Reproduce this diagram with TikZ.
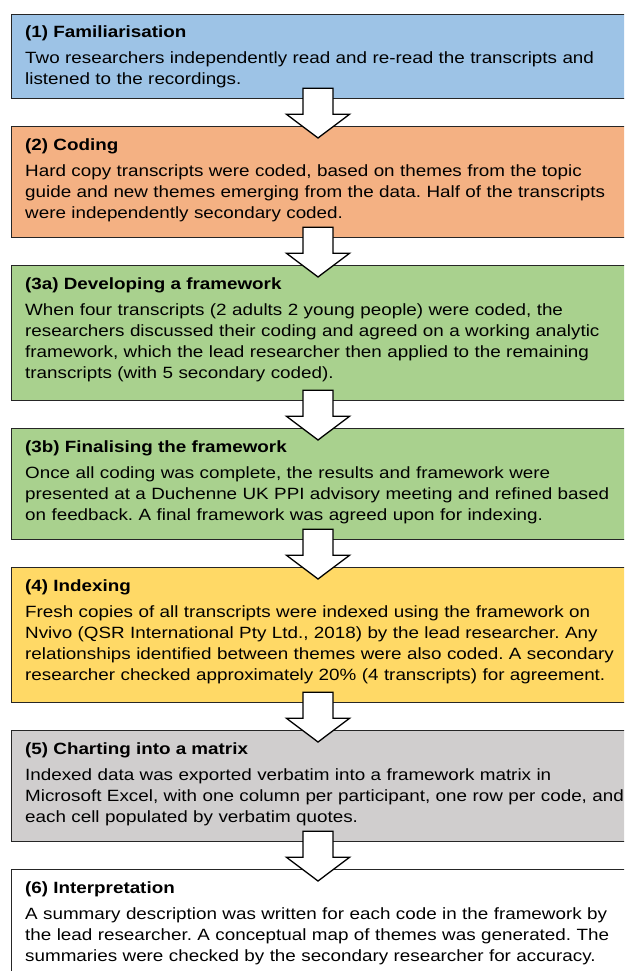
\documentclass[tikz,border=0pt]{standalone}
\usepackage{fontspec}
\setmainfont{Liberation Sans}[FakeStretch=1.155]
\usetikzlibrary{calc}
\definecolor{cblue}{HTML}{9DC3E6}
\definecolor{corange}{HTML}{F4B183}
\definecolor{cgreen}{HTML}{A9D18E}
\definecolor{cyellow}{HTML}{FFD966}
\definecolor{cgray}{HTML}{D0CECE}
\definecolor{cline}{HTML}{262626}
\newcommand{\flowarrow}[2]{%
  \draw[flowarr] ($(ax|-#1.south)+(-15,-11)$) -- ($(ax|-#1.south)+(-15,15)$)
    -- ($(ax|-#1.south)+(-31.5,15)$) -- ($(ax|-#2.north)+(0,12)$)
    -- ($(ax|-#1.south)+(31.5,15)$) -- ($(ax|-#1.south)+(15,15)$)
    -- ($(ax|-#1.south)+(15,-11)$) -- cycle;}
\begin{document}
\frenchspacing
\begin{tikzpicture}[x=1pt,y=-1pt,
  stagebox/.style={draw=cline, line width=1.3pt, inner sep=0pt, minimum width=640pt, anchor=north west},
  stagetitle/.style={anchor=base west, inner sep=0pt, font=\fontsize{16.3}{21}\selectfont\bfseries},
  stagebody/.style={anchor=base west, inner sep=0pt, text width=620pt, align=left, font=\fontsize{16.3}{21}\selectfont},
  flowarr/.style={draw=black, line width=1.3pt, fill=white, line join=miter}]
\useasboundingbox (0,0) rectangle (624,971);
\fill[white] (0,0) rectangle (624,971);
\clip (0,0) rectangle (624,971);
\coordinate (ax) at (318,0);
% boxes
\node[stagebox, fill=cblue, minimum height=84pt] (b1) at (11,14) {};
\node[stagebox, fill=corange, minimum height=111pt] (b2) at (11,126) {};
\node[stagebox, fill=cgreen, minimum height=135pt] (b3) at (11,265) {};
\node[stagebox, fill=cgreen, minimum height=111pt] (b4) at (11,428) {};
\node[stagebox, fill=cyellow, minimum height=135pt] (b5) at (11,567) {};
\node[stagebox, fill=cgray, minimum height=111pt] (b6) at (11,730) {};
\node[stagebox, fill=white, minimum height=140pt] (b7) at (11,869) {};
% texts
\node[stagetitle] (t1) at ($(b1.north west)+(14,24)$) {(1) Familiarisation};
\node[stagebody] (d1) at ($(b1.north west)+(14,49.5)$) {Two researchers independently read and re-read the transcripts and\\listened to the recordings.};
\node[stagetitle] (t2) at ($(b2.north west)+(14,24)$) {(2) Coding};
\node[stagebody] (d2) at ($(b2.north west)+(14,50)$) {Hard copy transcripts were coded, based on themes from the topic\\guide and new themes emerging from the data. Half of the transcripts\\were independently secondary coded.};
\node[stagetitle] (t3) at ($(b3.north west)+(14,24)$) {(3a) Developing a framework};
\node[stagebody] (d3) at ($(b3.north west)+(14,50)$) {When four transcripts (2 adults 2 young people) were coded, the\\researchers discussed their coding and agreed on a working analytic\\framework, which the lead researcher then applied to the remaining\\transcripts (with 5 secondary coded).};
\node[stagetitle] (t4) at ($(b4.north west)+(14,24)$) {(3b) Finalising the framework};
\node[stagebody] (d4) at ($(b4.north west)+(14,50)$) {Once all coding was complete, the results and framework were\\presented at a Duchenne UK PPI advisory meeting and refined based\\on feedback. A final framework was agreed upon for indexing.};
\node[stagetitle] (t5) at ($(b5.north west)+(14,24)$) {(4) Indexing};
\node[stagebody] (d5) at ($(b5.north west)+(14,50)$) {Fresh copies of all transcripts were indexed using the framework on\\Nvivo (QSR International Pty Ltd., 2018) by the lead researcher. Any\\relationships identified between themes were also coded. A secondary\\researcher checked approximately 20\% (4 transcripts) for agreement.};
\node[stagetitle] (t6) at ($(b6.north west)+(14,24)$) {(5) Charting into a matrix};
\node[stagebody] (d6) at ($(b6.north west)+(14,50)$) {Indexed data was exported verbatim into a framework matrix in\\Microsoft Excel, with one column per participant, one row per code, and\\each cell populated by verbatim quotes.};
\node[stagetitle] (t7) at ($(b7.north west)+(14,24)$) {(6) Interpretation};
\node[stagebody] (d7) at ($(b7.north west)+(14,50)$) {A summary description was written for each code in the framework by\\the lead researcher. A conceptual map of themes was generated. The\\summaries were checked by the secondary researcher for accuracy.};
% arrows
\flowarrow{b1}{b2}
\flowarrow{b2}{b3}
\flowarrow{b3}{b4}
\flowarrow{b4}{b5}
\flowarrow{b5}{b6}
\flowarrow{b6}{b7}
\end{tikzpicture}
\end{document}
